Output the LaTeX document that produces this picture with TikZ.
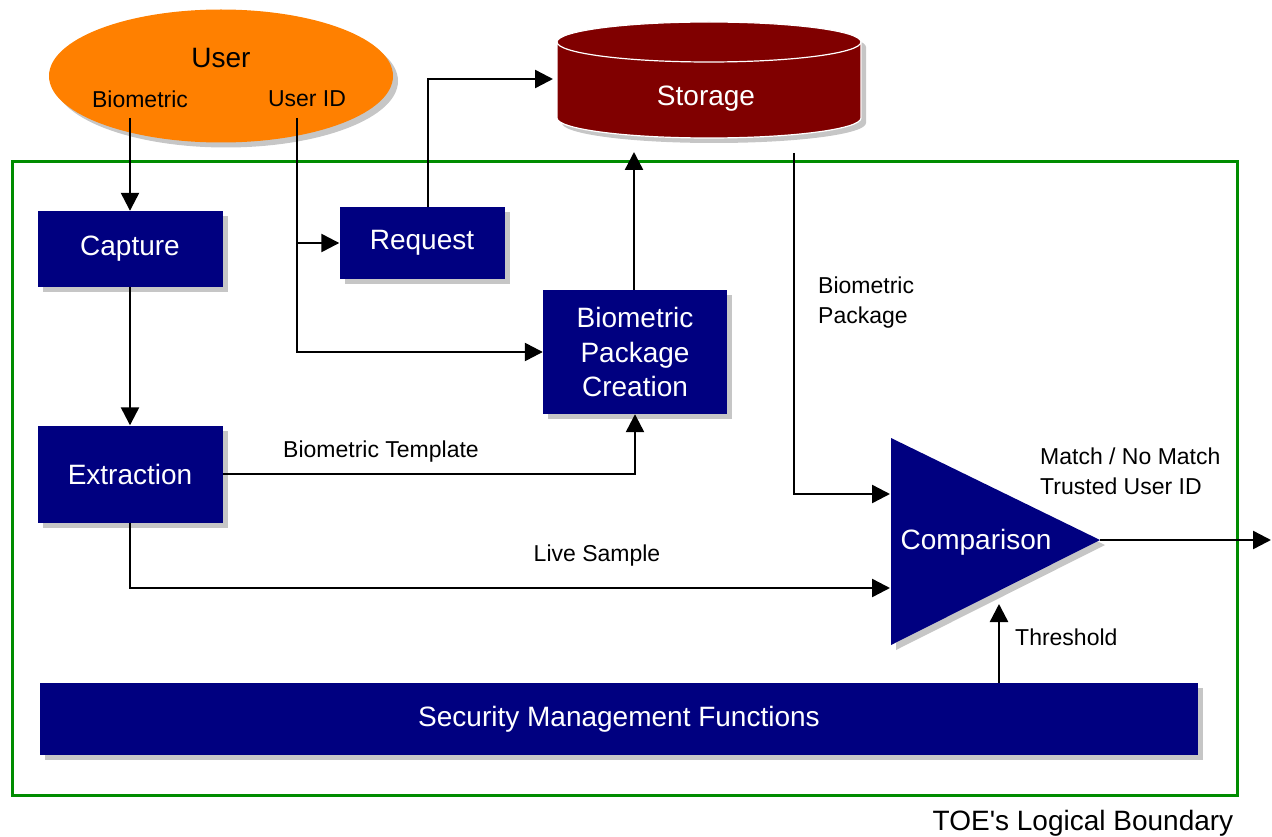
\documentclass[tikz,border=0pt]{standalone}
\usepackage{fontspec}
\setmainfont{Liberation Sans}
\usepackage{tikz}
\usetikzlibrary{shapes.geometric,shadows,arrows.meta}
\definecolor{boxblue}{RGB}{0,0,128}
\definecolor{storered}{RGB}{128,0,0}
\definecolor{userorange}{RGB}{255,128,0}
\definecolor{toegreen}{RGB}{0,140,0}
\newcommand{\bigtxt}{\fontsize{28}{34.5}\selectfont}
\newcommand{\lbltxt}{\fontsize{23}{30}\selectfont}
\def\storepath{(557,42) -- (557,118) arc (180:0:152 and 20) -- (861,42) arc (0:-180:152 and 20) -- cycle}
\tikzset{
  shade/.style={drop shadow={shadow xshift=5pt,shadow yshift=-5pt,opacity=.45}},
  blk/.style={fill=boxblue,text=white,font=\bigtxt,align=center,inner sep=0pt,shade},
  arr/.style={line width=2.4pt,-{Triangle[length=18pt,width=18pt]}},
  lbl/.style={font=\lbltxt,inner sep=0pt,align=left}
}

\begin{document}
\begin{tikzpicture}[x=1pt,y=-1pt]
    \useasboundingbox (0,0) rectangle (1272,837);
    % boundary
    \draw[toegreen,line width=3pt] (12,162) rectangle (1237,795);
    \node[font=\bigtxt] (toe) at (1083,823) {TOE\textquotesingle s Logical Boundary};
    % user
    \node[ellipse,fill=userorange,minimum width=344pt,minimum height=133pt,shade] (user) at (221,76) {};
    \node[font=\bigtxt] (usertitle) at (221,58) {User};
    \node[font=\lbltxt] (userbio) at (140,99) {Biometric};
    \node[font=\lbltxt] (userid) at (307,99) {User ID};
    \coordinate (bioout) at (130,118);
    \coordinate (uidout) at (297,118);
    % storage
    \fill[storered,shade] \storepath;
    \draw[white,line width=1.2pt] \storepath;
    \draw[white,line width=1.2pt] (557,42) arc (180:0:152 and 20);
    \node[font=\bigtxt,text=white] (storage) at (706,99) {Storage};
    \coordinate (stoleft) at (553,79);
    \coordinate (stoin) at (634,152);
    \coordinate (stoout) at (794,153);
    % blocks
    \node[blk,minimum width=185pt,minimum height=76pt] (capture) at (130,249) {Capture};
    \node[blk,minimum width=165pt,minimum height=72pt] (request) at (422,243) {Request};
    \node[blk,minimum width=184pt,minimum height=124pt] (bpc) at (635,352) {Biometric\\Package\\Creation};
    \node[blk,minimum width=185pt,minimum height=97pt] (extraction) at (130,474) {Extraction};
    \node[blk,minimum width=1158pt,minimum height=72pt] (security) at (619,719) {Security Management Functions};
    % comparison
    \fill[boxblue,shade] (891,438) -- (1100,540) -- (891,645) -- cycle;
    \node[font=\bigtxt,text=white] (comparison) at (976,542) {Comparison};
    \coordinate (cmptop) at (890,494);
    \coordinate (cmplow) at (890,588);
    \coordinate (cmptip) at (1100,540);
    \coordinate (cmpbot) at (999,604);
    \coordinate (result) at (1271,540);
    % connectors
    \draw[arr] (bioout) -- (capture.north);
    \draw[arr] (uidout) |- (bpc.west);
    \draw[arr] (uidout |- request.west) -- (request.west);
    \draw[arr] ([xshift=6pt]request.north) |- (stoleft);
    \draw[arr] (bpc.north -| stoin) -- (stoin);
    \draw[arr] (capture.south) -- (extraction.north);
    \draw[arr] (extraction.east) -| (bpc.south);
    \draw[arr] (extraction.south) |- (cmplow);
    \draw[arr] (stoout) |- (cmptop);
    \draw[arr] (cmptip) -- (result);
    \draw[arr] (cmpbot |- security.north) -- (cmpbot);
    % labels
    \node[lbl] (templbl) at (381,452) {Biometric Template};
    \node[lbl] (livelbl) at (597,556) {Live Sample};
    \node[lbl,anchor=west] (pkglbl) at (818,303) {Biometric\\Package};
    \node[lbl,anchor=west] (matchlbl) at (1040,471) {Match / No Match\\Trusted User ID};
    \node[lbl,anchor=west] (thrlbl) at (1015,637) {Threshold};
\end{tikzpicture}
\end{document}
